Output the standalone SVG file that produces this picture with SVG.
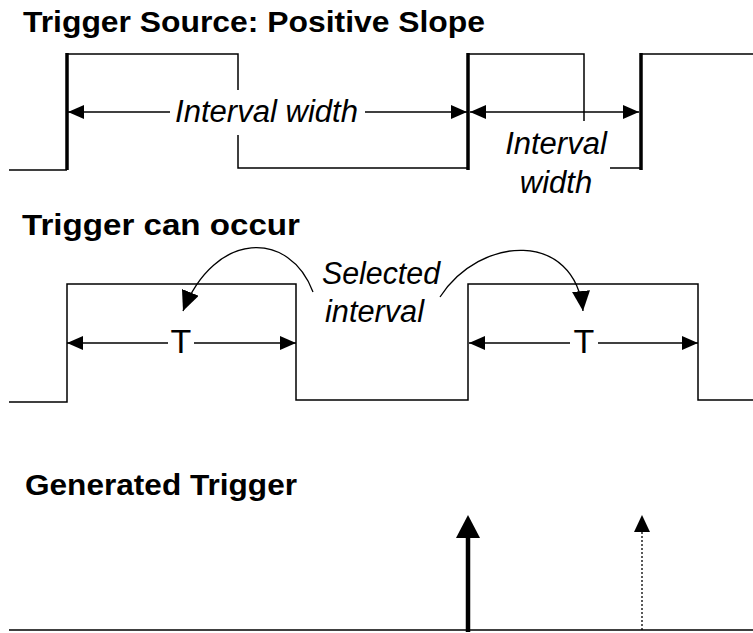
<svg xmlns="http://www.w3.org/2000/svg" width="753" height="633" viewBox="0 0 753 633">
<style>
.w{fill:none;stroke:#000;stroke-width:1.5}
.e{fill:none;stroke:#000;stroke-width:3.5}
.d{fill:none;stroke:#000;stroke-width:1.3}
.ttl{font-family:"Liberation Sans",Arial,sans-serif;font-weight:bold;font-size:29px;fill:#000}
.lbl{font-family:"Liberation Sans",Arial,sans-serif;font-style:italic;font-size:31px;fill:#000}
.t{font-family:"Liberation Sans",Arial,sans-serif;font-size:34px;fill:#000;text-anchor:middle}
</style>
<defs>
<marker id="ah" viewBox="0 0 16 14" refX="16" refY="7" markerWidth="16" markerHeight="14" markerUnits="userSpaceOnUse" orient="auto-start-reverse">
<path d="M0,0 L16,7 L0,14 z" fill="#000"/>
</marker>
<marker id="ahc" viewBox="0 0 20 18" refX="20" refY="9" markerWidth="20" markerHeight="18" markerUnits="userSpaceOnUse" orient="auto">
<path d="M0,0 L20,9 L0,18 z" fill="#000"/>
</marker>
</defs>
<g id="titles">
<text class="ttl" x="23" y="32" textLength="462" lengthAdjust="spacingAndGlyphs">Trigger Source: Positive Slope</text>
<text class="ttl" x="22" y="235" textLength="278" lengthAdjust="spacingAndGlyphs">Trigger can occur</text>
<text class="ttl" x="25" y="495" textLength="272" lengthAdjust="spacingAndGlyphs">Generated Trigger</text>
</g>
<g id="source-wave">
<path class="w" d="M9,170 H67 M67,54 H238 V90 M238,135 V168 H468 M468,54 H584 V121 M610,168 H641 M641,54 H753"/>
<path class="e" d="M67,170 V53 M468,170 V53 M641,170 V53"/>
</g>
<g id="can-occur-wave">
<path class="w" d="M9,402 H67 V284 H296 V400 H468 V284 H698 V400 H753"/>
</g>
<g id="generated-trigger">
<path class="w" d="M9,630 H753"/>
</g>
<g id="labels">
<text class="lbl" x="175" y="122" textLength="183" lengthAdjust="spacingAndGlyphs">Interval width</text>
<text class="lbl" x="556" y="154" text-anchor="middle">Interval</text>
<text class="lbl" x="556" y="193" text-anchor="middle">width</text>
<text class="lbl" x="322" y="284" textLength="118" lengthAdjust="spacingAndGlyphs">Selected</text>
<text class="lbl" x="325" y="322" textLength="99" lengthAdjust="spacingAndGlyphs">interval</text>
<text class="t" x="181" y="353">T</text>
<text class="t" x="584" y="353">T</text>
</g>
<g id="connectors">
<line class="w" x1="68" y1="112" x2="170" y2="112" marker-start="url(#ah)"/>
<line class="w" x1="365" y1="112" x2="467" y2="112" marker-end="url(#ah)"/>
<line class="w" x1="470" y1="112" x2="639" y2="112" marker-start="url(#ah)" marker-end="url(#ah)"/>
<line class="w" x1="67" y1="343" x2="168" y2="343" marker-start="url(#ah)"/>
<line class="w" x1="194" y1="343" x2="296" y2="343" marker-end="url(#ah)"/>
<line class="w" x1="469" y1="343" x2="570" y2="343" marker-start="url(#ah)"/>
<line class="w" x1="598" y1="343" x2="698" y2="343" marker-end="url(#ah)"/>
<path class="d" d="M313,292 C290,230 215,230 183,311" marker-end="url(#ahc)"/>
<path class="d" d="M440,297 C480,235 575,230 583,311" marker-end="url(#ahc)"/>
<line x1="468" y1="632" x2="468" y2="537" stroke="#000" stroke-width="4.5"/>
<polygon points="468,515 480,538 456,538" fill="#000"/>
<line x1="642" y1="630" x2="642" y2="531" stroke="#000" stroke-width="1.3" stroke-dasharray="2,2"/>
<polygon points="642,515 650,532 634,532" fill="#000"/>
</g>
</svg>
